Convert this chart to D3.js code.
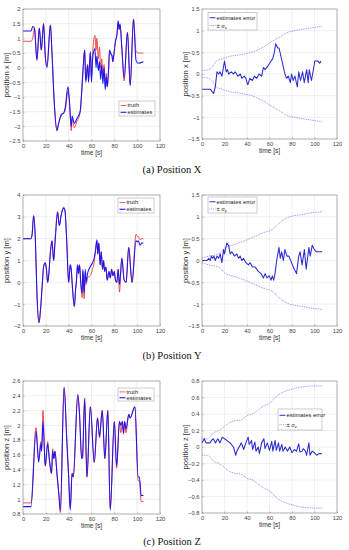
<!DOCTYPE html>
<html>
<head>
<meta charset="UTF-8">
<title>position estimates</title>
<script src="https://cdn.jsdelivr.net/npm/d3@7"></script>
<style>
  body { margin: 0; background: #fff; }
  text { font-family: "Liberation Sans", Arial, sans-serif; }
  .tick text { fill: #444; }
  .caption { font-family: "Liberation Serif", "Times New Roman", serif; fill: #111; }
</style>
</head>
<body>
<svg id="fig" width="349" height="550"></svg>
<script>
// ---- position X ----
var tPosX = [0,7,8.5,10,12.2,14.3,16,18,19.5,21,24,25.4,27.4,29.7,31.2,33.5,35.6,37,39.4,40.5,42.3,43,45,47,50,52.5,54,55,56.6,57.4,59,60,61,63,64,64.7,66,67,68,69,70,71,72,73,73.8,75,75.8,77.3,78,78.6,79.6,81,82.2,83.4,84.2,85,86.6,88.6,91.5,93.9,96.8,99,101,105.5];
var truthX = [0.9,0.9,1.0,1.35,0.3,1.35,0.6,1.5,0.4,0.05,1.45,0.5,-1.2,-2.1,-1.9,-1.65,-1.55,-1.45,-0.8,-1.1,-2.15,-1.75,-2.05,-1.85,-1.55,-0.2,0.6,-0.4,0.1,-0.35,0.5,-0.3,0.5,1.1,0.6,1.0,0.3,0.7,0.0,0.3,-0.35,0.1,-0.5,-0.2,-0.65,-0.1,0.55,0.45,0.4,0.2,0.45,0.9,1.1,1.55,1.3,1.45,0.65,-0.45,1.2,-0.6,1.65,0.55,0.5,0.5];
var estX = [1.25,1.25,1.4,1.35,0.25,1.35,0.6,1.5,0.4,0.0,1.45,0.5,-1.2,-2.15,-1.9,-1.6,-1.55,-1.35,-0.65,-1.05,-2.0,-1.65,-1.9,-1.75,-1.5,-0.1,0.6,-0.5,0.1,-0.5,0.55,-0.5,0.3,0.65,0.0,0.4,-0.1,0.2,-0.4,0.1,-0.55,0.0,-0.75,-0.3,-0.65,0.0,0.6,0.45,0.4,0.2,0.45,0.9,1.1,1.6,1.3,1.5,0.65,-0.35,1.2,-0.6,1.65,0.25,0.15,0.2];
var tErrX = [0,7.4,8.8,10.3,11.8,13.3,14.8,16,17.7,20,21.5,22.7,23.6,26,28,29.5,32,34,35.4,37.5,39,40.7,42.5,44.8,46.6,48.7,50.7,53,54.6,56,59,61.4,62.8,64.3,65.5,67.3,68.5,70.2,72,73.7,75.2,76.7,78.5,79.6,81,82.6,84.7,86,87.6,89.4,90.9,93,94.4,95.3,97.3,100.3,102.7,104.7,105.8];
var errX = [-0.35,-0.35,-0.4,-0.45,-0.3,0.05,0.0,0.05,-0.05,0.3,0.05,0.1,0.0,0.05,0.0,0.05,-0.05,0.0,-0.1,-0.05,-0.1,-0.25,-0.1,-0.15,-0.05,-0.1,0.0,-0.05,0.15,0.1,0.2,0.3,0.35,0.5,0.7,0.6,0.6,0.4,0.2,0.0,-0.1,-0.05,-0.2,0.0,-0.15,-0.05,-0.3,0.05,-0.15,0.05,-0.2,0.1,-0.2,0.1,-0.15,0.3,0.3,0.25,0.3];
var tSigX = [0,6,10,13,17.7,23.6,35,44,53,62,69,75,82.6,94,107];
var sigX = [0.08,0.1,0.2,0.3,0.35,0.4,0.45,0.5,0.6,0.75,0.85,0.95,1.0,1.05,1.1];

// ---- position Y ----
var tPosY = [0,7,8,9.3,10.8,12.2,14,15.7,17,18,19.5,20.5,21.6,22.5,24,25.4,26.8,28.3,30.3,31.8,33.5,35.6,36.7,38.2,40,41.4,42.3,43,45,46.1,46.7,47.8,48.6,49.5,50.7,51.8,52.4,53.6,54.5,55.3,56.5,58.8,60.9,62.3,63.5,64.7,65.5,66.4,67.6,68.5,69.7,70.6,71.5,72.6,73.8,75.3,76.5,77.6,78.8,79.9,81,82.2,83.4,84.5,86.6,88.6,90.3,92.6,95.5,99,100.2,101,102.5,104,105.5];
var truthY = [2.0,2.0,2.2,3.05,2.0,-0.5,-1.85,-1.0,0.0,0.7,0.9,0.6,0.0,0.3,1.4,1.9,1.0,2.15,3.25,2.6,3.1,3.45,3.35,2.0,0.0,0.8,0.55,0.0,-1.1,-0.3,0.0,0.8,0.4,0.8,-0.1,-0.7,0.5,-0.75,0.4,-0.1,0.2,0.3,0.6,0.9,1.45,1.9,1.3,1.8,0.8,1.4,0.6,1.0,0.5,0.7,0.1,0.5,0.2,0.6,0.3,0.5,0.1,0.0,0.6,-0.45,1.1,0.1,0.0,1.6,0.0,2.2,2.1,2.1,1.95,2.0,2.0];
var estY = [2.0,2.0,2.2,3.05,2.0,-0.5,-1.85,-1.0,0.0,0.7,0.9,0.6,0.0,0.3,1.4,1.9,1.0,2.0,3.2,2.6,3.1,3.4,3.3,2.0,0.0,0.8,0.55,0.0,-1.1,-0.3,0.0,0.8,0.4,0.8,-0.1,-0.5,0.6,-0.5,0.6,0.0,0.4,0.7,0.9,1.1,1.45,1.95,1.3,1.8,0.8,1.4,0.6,1.0,0.5,0.7,0.1,0.5,0.2,0.6,0.3,0.5,0.1,0.0,0.6,-0.1,1.1,0.1,0.0,1.6,0.0,1.9,1.85,1.9,1.7,1.8,1.8];
var tErrY = [0,4.4,5.9,7.4,8.3,9.4,10.6,11.8,13.3,14.8,16.2,17.7,19.2,20,22,23.6,25,26.5,28.9,31,32.5,34,35.4,36.9,39,41.3,42.8,44.8,47.2,50,52.5,54.6,56.1,57.8,59.6,61.4,62.5,63.7,64.9,66.4,68.4,69.6,70.8,72.3,73.7,75.5,77.3,79.6,82,84,86,87.2,89,91,92.6,95,96.2,98,99.8,101.8,106.8];
var errY = [0.0,0.0,0.05,0.0,0.1,0.05,0.1,0.0,0.1,0.05,0.15,-0.05,0.25,0.15,0.4,0.35,0.15,0.2,0.1,0.15,0.05,0.1,0.0,0.05,-0.05,-0.1,-0.05,-0.15,-0.15,-0.25,-0.3,-0.4,-0.3,-0.4,-0.35,-0.45,-0.35,-0.45,-0.3,0.0,0.3,0.05,0.2,0.0,0.25,0.1,0.1,-0.05,-0.2,-0.3,0.1,0.2,-0.1,0.25,-0.2,0.3,0.1,0.35,0.25,0.2,0.2];
var tSigY = [0,6,15,20.6,26.5,35,47,56,62,66.4,70.8,78,88.5,100,107];
var sigY = [0.05,0.1,0.15,0.3,0.35,0.42,0.55,0.65,0.7,0.8,0.9,1.0,1.05,1.1,1.12];

// ---- position Z ----
var tPosZ = [0,7,11.4,13.7,15.7,16.3,17.5,19.5,21.6,23,25,26,27,28,29.7,31.5,32.7,36,38.5,40,41.4,43,44,48,49.5,51.3,52.2,54,56,59,62.4,65.3,67,69.4,71.7,74.3,76.4,80,82,84.5,85.7,87,88,89,90.2,92.7,93.8,98,100.9,102,103.5,105.5];
var truthZ = [0.95,0.95,1.97,1.55,1.78,1.7,2.2,1.45,1.78,1.55,1.35,1.68,1.55,1.65,1.35,1.05,0.82,2.5,1.75,1.3,0.9,1.35,1.3,2.4,2.15,1.6,1.55,2.37,1.3,2.25,1.5,2.1,1.83,2.2,1.55,2.2,0.88,2.05,1.42,2.05,1.9,2.05,1.88,2.05,1.9,2.15,2.1,2.25,1.25,1.25,0.97,0.97];
var estZ = [0.9,0.9,1.92,1.5,1.75,1.65,2.05,1.45,1.75,1.55,1.35,1.65,1.55,1.65,1.35,1.05,0.85,2.52,1.75,1.3,0.85,1.35,1.3,2.42,2.15,1.55,1.6,2.35,1.3,2.25,1.5,2.1,1.85,2.2,1.55,2.2,0.85,2.05,1.45,2.05,2.0,2.05,1.9,2.05,1.95,2.15,2.1,2.25,1.3,1.3,1.05,1.05];
var tErrZ = [0,2,3.5,5,7,8.5,10,12,14,16,18,20,22,25,28,30,31,33,35,37,39,41,42,44,45,47,48,50,51,53,55,56,58,60,62,63,65,66,68,69,71,72,74,76,78,80,82,84,86,87,89,90,92,93,95,96,98,100,102,104,106.5];
var errZ = [0.05,0.1,0.05,0.05,0.05,0.08,0.1,0.05,0.1,0.05,0.12,0.1,0.08,0.05,0.0,-0.1,-0.05,0.0,0.05,-0.03,0.05,0.12,0.03,0.08,-0.03,0.06,-0.05,0.0,-0.08,0.05,0.1,-0.02,0.05,-0.04,0.07,-0.05,0.08,-0.04,0.05,-0.05,0.03,-0.05,0.0,-0.05,0.0,-0.07,-0.03,-0.05,0.04,-0.06,-0.05,-0.02,-0.05,-0.1,0.05,-0.1,-0.05,-0.07,-0.1,-0.08,-0.08];
var tSigZ = [0,5,10,15,20,25,30,35,40,45,50,55,60,65,70,75,80,85,90,100,107];
var sigZ = [0.1,0.1,0.17,0.2,0.25,0.3,0.32,0.33,0.38,0.4,0.45,0.5,0.53,0.6,0.65,0.68,0.7,0.72,0.73,0.74,0.74];

// tick labels
var timeTicks = [0,20,40,60,80,100,120];
var yTicksX = [-2.5,-2,-1.5,-1,-0.5,0,0.5,1,1.5,2];
var yTicksErr = [-1.5,-1,-0.5,0,0.5,1,1.5];
var yTicksY = [-2,-1,0,1,2,3,4];
var yTicksZ = [0.8,1,1.2,1.4,1.6,1.8,2,2.2,2.4,2.6];
var yTicksErrZ = [-0.8,-0.6,-0.4,-0.2,0,0.2,0.4,0.6,0.8];

var svg = d3.select("#fig");
var RED = "#f03a3a", BLUE = "#1717f5", ERRBLUE = "#2b2bd0", SIGBLUE = "#5a5ae8";

function zip(t, v) { return t.map(function(d, i) { return [d, v[i]]; }); }

function panel(o) {
  var w = o.x1 - o.x0, h = o.y1 - o.y0;
  var x = d3.scaleLinear().domain([0, 120]).range([o.x0, o.x1]);
  var y = d3.scaleLinear().domain(o.dom).range([o.y1, o.y0]);
  var g = svg.append("g");

  // grid
  g.append("g").selectAll("line").data(timeTicks).enter().append("line")
    .attr("x1", x).attr("x2", x).attr("y1", o.y0).attr("y2", o.y1)
    .attr("stroke", "#e4e4e4").attr("stroke-width", 0.6);
  g.append("g").selectAll("line").data(o.ticks).enter().append("line")
    .attr("y1", y).attr("y2", y).attr("x1", o.x0).attr("x2", o.x1)
    .attr("stroke", "#e4e4e4").attr("stroke-width", 0.6);

  var line = d3.line().x(function(d) { return x(d[0]); }).y(function(d) { return y(d[1]); });

  // series
  o.series.forEach(function(s) {
    var l = s.smooth ? line.curve(d3.curveMonotoneX) : line.curve(d3.curveLinear);
    g.append("path").datum(s.data).attr("d", l)
      .attr("fill", "none").attr("stroke", s.color).attr("stroke-width", s.width)
      .attr("stroke-dasharray", s.dash || null).attr("stroke-linejoin", "round");
  });

  // axes
  var ax = g.append("g").attr("transform", "translate(0," + o.y1 + ")")
    .call(d3.axisBottom(x).tickValues(timeTicks).tickSize(-1.5).tickPadding(2.5).tickFormat(d3.format("d")));
  var ay = g.append("g").attr("transform", "translate(" + o.x0 + ",0)")
    .call(d3.axisLeft(y).tickValues(o.ticks).tickSize(-1.5).tickPadding(2.5).tickFormat(function(d) { return d3.format("")(+d.toFixed(2)); }));
  [ax, ay].forEach(function(a) {
    a.select(".domain").remove();
    a.selectAll(".tick line").attr("stroke", "#777").attr("stroke-width", 0.5);
    a.selectAll(".tick text").style("font-size", "5.8px");
  });
  g.append("rect").attr("x", o.x0).attr("y", o.y0).attr("width", w).attr("height", h)
    .attr("fill", "none").attr("stroke", "#8a8a8a").attr("stroke-width", 0.6);

  // axis labels
  g.append("text").attr("x", (o.x0 + o.x1) / 2).attr("y", o.y1 + 14)
    .attr("text-anchor", "middle").style("font-size", "6.6px").attr("fill", "#333").text("time [s]");
  g.append("text").attr("transform", "translate(" + (o.x0 - 14.5) + "," + ((o.y0 + o.y1) / 2) + ") rotate(-90)")
    .attr("text-anchor", "middle").style("font-size", "7.6px").attr("fill", "#333").text(o.ylabel);

  // legend
  var L = o.legend;
  g.append("rect").attr("x", L.x).attr("y", L.y).attr("width", L.w).attr("height", L.h)
    .attr("fill", "#fff").attr("stroke", "#9a9a9a").attr("stroke-width", 0.5);
  L.items.forEach(function(it, i) {
    var yy = L.y + L.h * (i === 0 ? 0.3 : 0.75);
    g.append("line").attr("x1", L.x + 1.5).attr("x2", L.x + 7.5).attr("y1", yy).attr("y2", yy)
      .attr("stroke", it.color).attr("stroke-width", it.width).attr("stroke-dasharray", it.dash || null);
    var t = g.append("text").attr("x", L.x + 8.5).attr("y", yy + 1.9)
      .style("font-size", "5.8px").attr("fill", "#222");
    if (it.sub) {
      t.append("tspan").text("\u00b1  ");
      t.append("tspan").style("font-style", "italic").text("\u03c3");
      t.append("tspan").attr("dy", 1.3).style("font-size", "4px").text(it.sub);
    } else {
      t.text(it.label);
    }
  });
}

function posPanel(y0, y1, dom, ticks, lab, t, tr, es, leg) {
  panel({ x0: 23, x1: 160, y0: y0, y1: y1, dom: dom, ticks: ticks, ylabel: lab,
    series: [
      { data: zip(t, tr), color: RED, width: 0.9, smooth: true },
      { data: zip(t, es), color: BLUE, width: 1.05, smooth: true }
    ],
    legend: { x: leg[0], y: leg[1], w: 36, h: leg[2], items: [
      { label: "truth", color: RED, width: 0.8 },
      { label: "estimates", color: BLUE, width: 1.1 }
    ] }
  });
}

function errPanel(y0, y1, dom, ticks, lab, t, e, ts, s, sub, leg) {
  panel({ x0: 202, x1: 337, y0: y0, y1: y1, dom: dom, ticks: ticks, ylabel: lab,
    series: [
      { data: zip(ts, s), color: SIGBLUE, width: 0.7, dash: "0.9,0.9", smooth: true },
      { data: zip(ts, s.map(function(v) { return -v; })), color: SIGBLUE, width: 0.7, dash: "0.9,0.9", smooth: true },
      { data: zip(t, e), color: ERRBLUE, width: 1.05 }
    ],
    legend: { x: leg[0], y: leg[1], w: leg[2], h: leg[3], items: [
      { label: "estimates error", color: ERRBLUE, width: 1.0 },
      { sub: sub, color: SIGBLUE, width: 0.7, dash: "0.9,0.9" }
    ] }
  });
}

posPanel(9, 141, [-2.5, 2], yTicksX, "position x [m]", tPosX, truthX, estX, [119, 101, 15]);
errPanel(9, 139, [-1.5, 1.5], yTicksErr, "position x [m]", tErrX, errX, tSigX, sigX, "x", [208, 12.5, 49, 17.5]);
posPanel(195, 326, [-2, 4], yTicksY, "position y [m]", tPosY, truthY, estY, [118, 198, 15]);
errPanel(195, 326, [-1.5, 1.5], yTicksErr, "position y [m]", tErrY, errY, tSigY, sigY, "y", [208, 197, 49, 16]);
posPanel(381, 514, [0.8, 2.6], yTicksZ, "position z [m]", tPosZ, truthZ, estZ, [118, 388, 13]);
errPanel(381, 513, [-0.8, 0.8], yTicksErrZ, "position z [m]", tErrZ, errZ, tSigZ, sigZ, "z", [278, 409, 44, 21]);

// sub-figure captions
var captions = ["(a) Position X", "(b) Position Y", "(c) Position Z"];
var capY = [173, 359, 545];
svg.selectAll(".caption").data(captions).enter().append("text")
  .attr("class", "caption").attr("x", 172).attr("y", function(d, i) { return capY[i]; })
  .attr("text-anchor", "middle").style("font-size", "10.5px").text(function(d) { return d; });
</script>
</body>
</html>
